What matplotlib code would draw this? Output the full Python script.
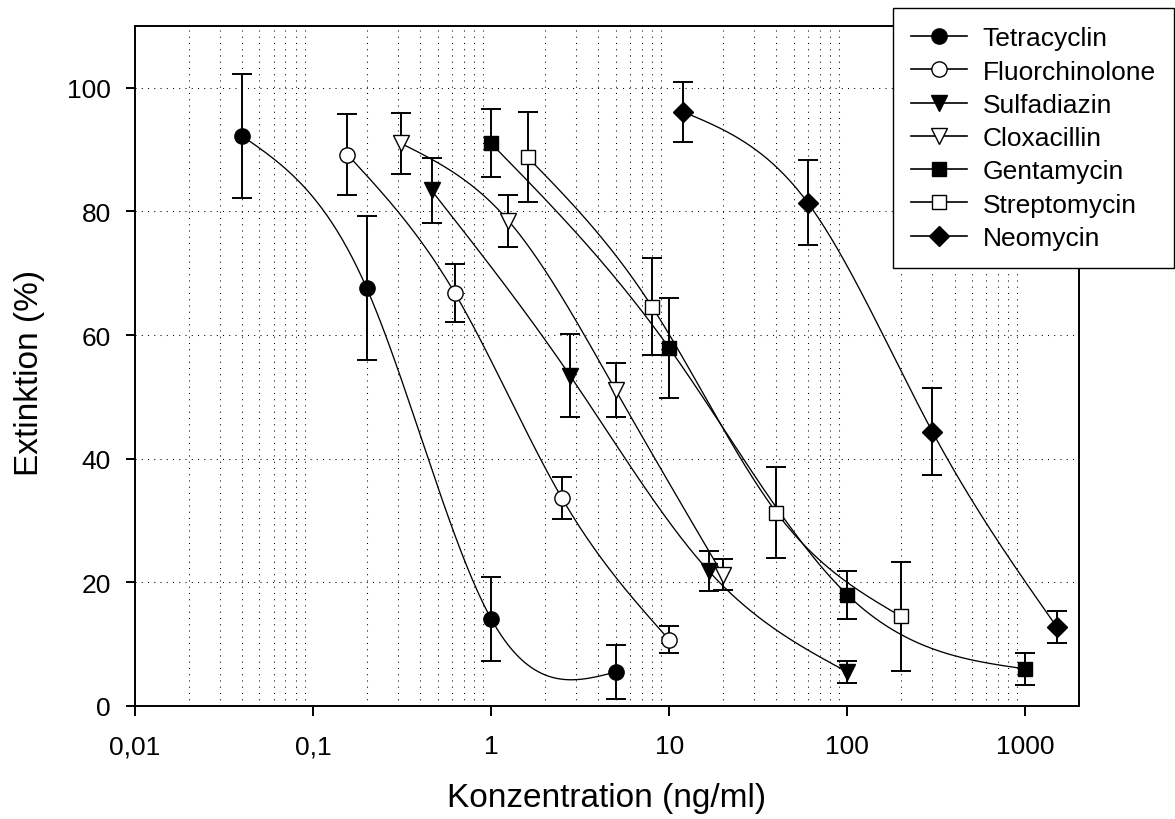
import numpy as np
import matplotlib
matplotlib.use("Agg")
import matplotlib.pyplot as plt
from matplotlib.ticker import FixedLocator, FixedFormatter, NullFormatter, LogLocator

plt.rcParams['font.family'] = ['Liberation Sans', 'DejaVu Sans']

# data (x in ng/ml, y in %, symmetric error)
names = ["Tetracyclin", "Fluorchinolone", "Sulfadiazin", "Cloxacillin",
         "Gentamycin", "Streptomycin", "Neomycin"]

tetra_x = [0.04, 0.2, 1, 5]
tetra_y = [92.2, 67.6, 14.1, 5.5]
tetra_err = [10.0, 11.6, 6.8, 4.3]

fluor_x = [0.156, 0.625, 2.5, 10]
fluor_y = [89.2, 66.8, 33.6, 10.7]
fluor_err = [6.5, 4.7, 3.4, 2.2]

sulfa_x = [0.463, 2.78, 16.7, 100]
sulfa_y = [83.4, 53.4, 21.8, 5.5]
sulfa_err = [5.3, 6.7, 3.2, 1.7]

cloxa_x = [0.3125, 1.25, 5, 20]
cloxa_y = [91.0, 78.5, 51.1, 21.2]
cloxa_err = [4.9, 4.2, 4.4, 2.5]

genta_x = [1, 10, 100, 1000]
genta_y = [91.0, 57.9, 18.0, 6.0]
genta_err = [5.5, 8.1, 3.9, 2.6]

strep_x = [1.6, 8, 40, 200]
strep_y = [88.8, 64.6, 31.3, 14.5]
strep_err = [7.3, 7.8, 7.3, 8.8]

neo_x = [12, 60, 300, 1500]
neo_y = [96.1, 81.4, 44.4, 12.8]
neo_err = [4.9, 6.9, 7.1, 2.6]

xtick_vals = [0.01, 0.1, 1, 10, 100, 1000]
xtick_labels = ["0,01", "0,1", "1", "10", "100", "1000"]
ytick_vals = [0, 20, 40, 60, 80, 100]

series = [
    (tetra_x, tetra_y, tetra_err, 'o', 'black', 11),
    (fluor_x, fluor_y, fluor_err, 'o', 'white', 11),
    (sulfa_x, sulfa_y, sulfa_err, 'v', 'black', 11.5),
    (cloxa_x, cloxa_y, cloxa_err, 'v', 'white', 11.5),
    (genta_x, genta_y, genta_err, 's', 'black', 10.5),
    (strep_x, strep_y, strep_err, 's', 'white', 10.5),
    (neo_x, neo_y, neo_err, 'D', 'black', 10.5),
]


def natural_spline(x, y, xs):
    # natural cubic spline through the points (used on log10 x)
    x = np.asarray(x, float)
    y = np.asarray(y, float)
    n = len(x)
    h = np.diff(x)
    A = np.zeros((n, n))
    b = np.zeros(n)
    A[0, 0] = 1
    A[-1, -1] = 1
    for i in range(1, n - 1):
        A[i, i - 1] = h[i - 1]
        A[i, i] = 2 * (h[i - 1] + h[i])
        A[i, i + 1] = h[i]
        b[i] = 6 * ((y[i + 1] - y[i]) / h[i] - (y[i] - y[i - 1]) / h[i - 1])
    M = np.linalg.solve(A, b)
    out = np.empty_like(xs)
    for k, t in enumerate(xs):
        i = min(max(np.searchsorted(x, t) - 1, 0), n - 2)
        a = x[i + 1] - t
        c = t - x[i]
        out[k] = (M[i] * a ** 3 + M[i + 1] * c ** 3) / (6 * h[i]) \
            + (y[i] / h[i] - M[i] * h[i] / 6) * a \
            + (y[i + 1] / h[i] - M[i + 1] * h[i] / 6) * c
    return out


fig = plt.figure(figsize=(11.75, 8.2), dpi=100)
ax = fig.add_axes([135 / 1175, 1 - 707 / 820, 944 / 1175, 680 / 820])

handles = []
for (x, y, err, mk, fc, ms), name in zip(series, names):
    lx = np.log10(x)
    xs = np.linspace(lx[0], lx[-1], 300)
    ys = natural_spline(lx, y, xs)
    ax.plot(10 ** xs, ys, color='black', lw=0.95, zorder=3)
    ax.errorbar(x, y, yerr=err, fmt='none', ecolor='black', elinewidth=1.4,
                capsize=7, capthick=1.4, zorder=4)
    ax.plot(x, y, linestyle='none', marker=mk, markersize=ms,
            markerfacecolor=fc, markeredgecolor='black', markeredgewidth=1.0, zorder=5)
    h, = ax.plot([], [], color='black', lw=1.2, marker=mk, markersize=ms,
                 markerfacecolor=fc, markeredgecolor='black', markeredgewidth=1.0)
    handles.append(h)

ax.set_xscale('log')
ax.set_xlim(0.01, 2000)
ax.set_ylim(0, 110)

ax.xaxis.set_major_locator(FixedLocator(xtick_vals))
ax.xaxis.set_major_formatter(FixedFormatter(xtick_labels))
ax.xaxis.set_minor_locator(LogLocator(base=10, subs=np.arange(2, 10)))
ax.xaxis.set_minor_formatter(NullFormatter())
ax.set_yticks(ytick_vals)

ax.tick_params(axis='x', which='major', direction='out', length=7.2, width=1.4,
               labelsize=19, pad=13)
ax.tick_params(axis='x', which='minor', length=0)
ax.tick_params(axis='y', which='major', direction='out', length=6.5, width=1.4,
               labelsize=19, pad=11)

ax.grid(True, axis='x', which='minor', color='black', linestyle=(0, (1, 5)), lw=0.75)
ax.grid(True, axis='y', which='major', color='black', linestyle=(0, (1, 5)), lw=0.75)
ax.set_axisbelow(True)

for s in ax.spines.values():
    s.set_linewidth(1.4)

ax.set_xlabel("Konzentration (ng/ml)", fontsize=24)
ax.xaxis.set_label_coords(0.5, -0.112)
ax.set_ylabel("Extinktion (%)", fontsize=24)
ax.yaxis.set_label_coords(-0.095, 0.491)

leg = fig.legend(handles, names, loc='upper right', bbox_to_anchor=(1174 / 1175, 811 / 820),
                 fontsize=19, frameon=True, fancybox=False, framealpha=1,
                 edgecolor='black', borderpad=0.7, labelspacing=0.35,
                 handlelength=2.1, handletextpad=0.6, borderaxespad=0)
leg.get_frame().set_linewidth(1.0)

fig.savefig("out.png", dpi=100)
